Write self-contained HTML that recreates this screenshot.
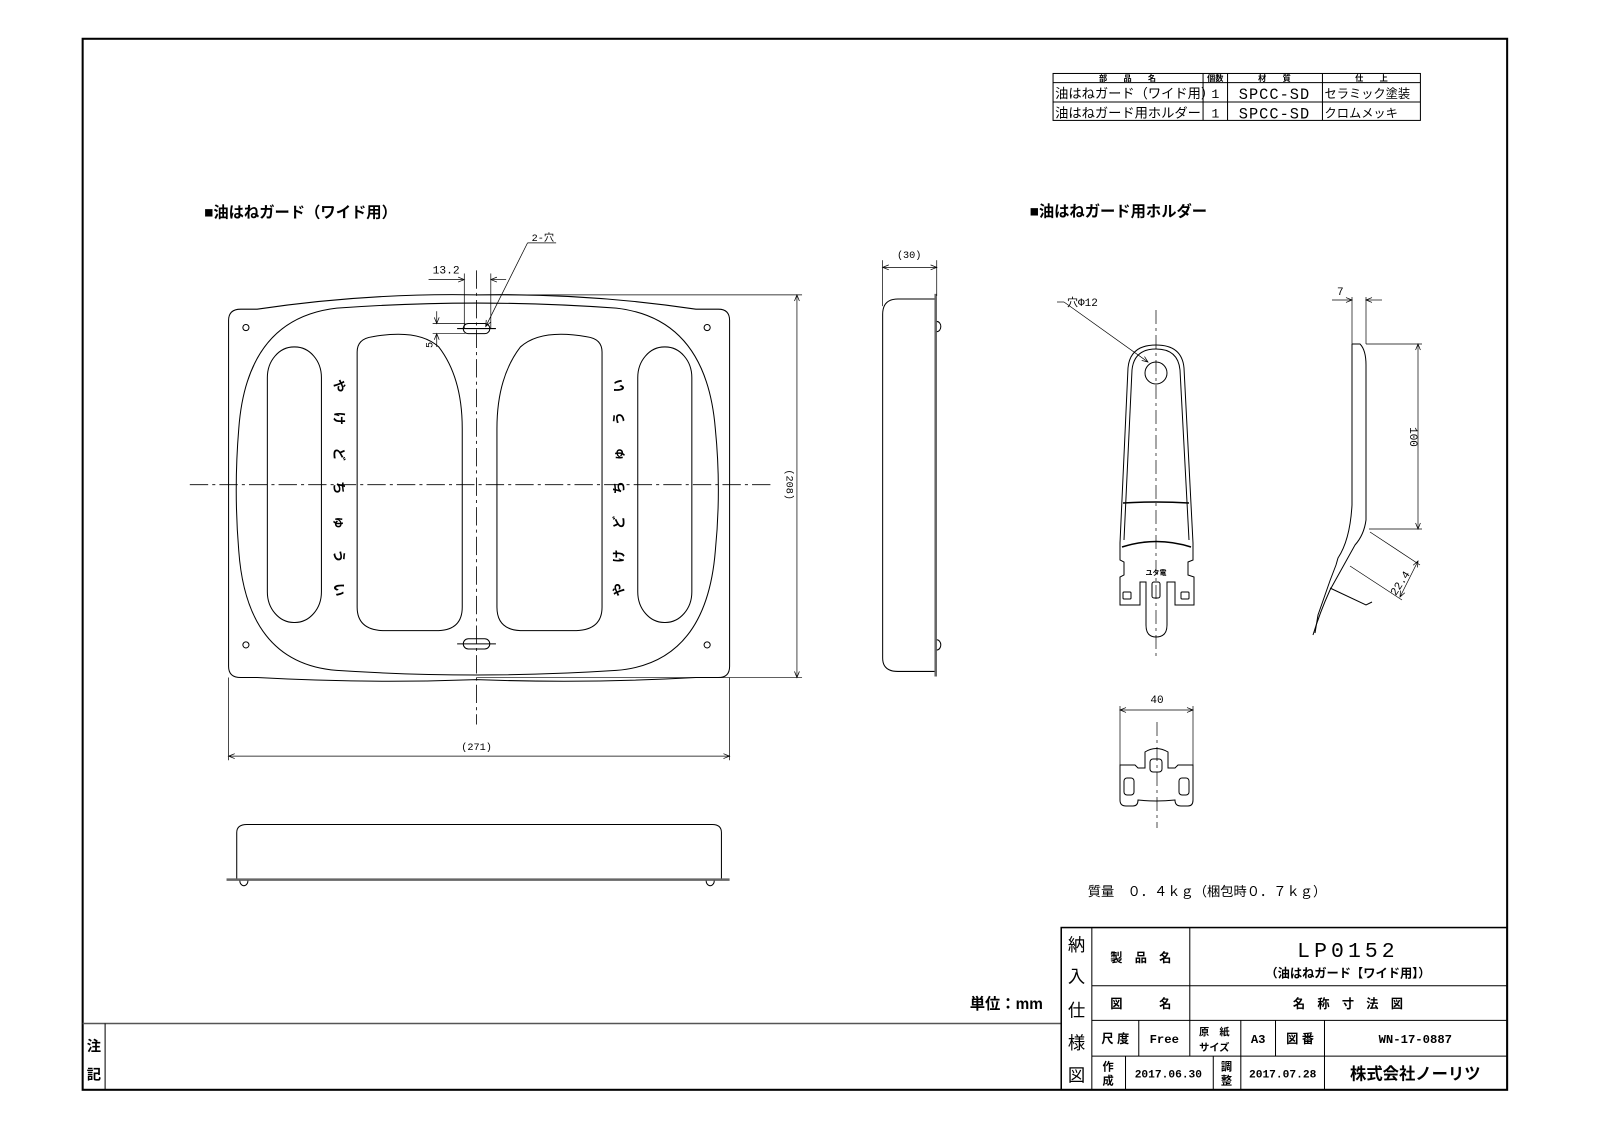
<!DOCTYPE html>
<html><head><meta charset="utf-8"><style>
html,body{margin:0;padding:0;background:#fff}
svg{display:block}
text{font-family:"Liberation Sans","Noto Sans CJK JP",sans-serif;fill:#000}
.m{font-family:"Liberation Mono","Noto Sans CJK JP",monospace}
.b{font-weight:bold}
</style></head><body>
<svg width="1600" height="1130" viewBox="0 0 1568 1107.4" xmlns="http://www.w3.org/2000/svg">
<defs>
<marker id="a" viewBox="0 0 10 10" refX="10" refY="5" markerWidth="8" markerHeight="6" orient="auto-start-reverse" markerUnits="userSpaceOnUse"><path d="M0,1 L10,5 L0,9" fill="none" stroke="#000" stroke-width="1.2"/></marker>
</defs>
<g fill="none" stroke="#000" stroke-width="1">
<rect x="81" y="38" width="1396" height="1030" stroke-width="2"/>
<line x1="81" y1="1003" x2="1040" y2="1003" stroke="#555" stroke-width="1.5"/>
<line x1="103" y1="1003" x2="103" y2="1068"/>
<rect x="1040" y="909" width="437" height="159" stroke-width="1.5"/>
<line x1="1070" y1="909" x2="1070" y2="1068"/>
<line x1="1070" y1="966" x2="1477" y2="966"/>
<line x1="1070" y1="1000" x2="1477" y2="1000"/>
<line x1="1070" y1="1035" x2="1477" y2="1035"/>
<line x1="1166" y1="909" x2="1166" y2="1000"/>
<line x1="1116" y1="1000" x2="1116" y2="1035"/>
<line x1="1166" y1="1000" x2="1166" y2="1035"/>
<line x1="1216" y1="1000" x2="1216" y2="1068"/>
<line x1="1250" y1="1000" x2="1250" y2="1035"/>
<line x1="1298" y1="1000" x2="1298" y2="1068"/>
<line x1="1103" y1="1035" x2="1103" y2="1068"/>
<line x1="1189" y1="1035" x2="1189" y2="1068"/>
<rect x="1032" y="72" width="360" height="46"/>
<line x1="1032" y1="81" x2="1392" y2="81"/>
<line x1="1032" y1="100" x2="1392" y2="100"/>
<line x1="1179" y1="72" x2="1179" y2="118"/>
<line x1="1203" y1="72" x2="1203" y2="118"/>
<line x1="1296" y1="72" x2="1296" y2="118"/>

<path d="M236,303 L252,303 Q360,287 467,289 Q574,287 682,303 L704,303 Q715,303 715,314 L715,653 Q715,664 704,664 L682,664 Q574,670 467,666 Q360,670 252,664 L236,664 Q224,664 224,653 L224,314 Q224,303 236,303 Z"/>
<path d="M330,302 Q467,292 604,302 Q692,312 701,420 Q707,480 701,540 Q692,650 604,657 Q467,666 330,657 Q242,650 234,540 Q229,480 234,420 Q242,312 330,302 Z"/>
<circle cx="241" cy="321" r="3"/><circle cx="693" cy="321" r="3"/>
<circle cx="241" cy="632" r="3"/><circle cx="693" cy="632" r="3"/>
<rect x="262" y="340" width="53" height="270" rx="26" ry="30"/>
<rect x="625" y="340" width="53" height="270" rx="26" ry="30"/>
<path d="M365,330 Q410,322 430,340 Q453,370 453,420 L453,595 Q453,617 430,618 L375,618 Q350,617 350,595 L350,345 Q350,332 365,330 Z"/>
<path d="M575,330 Q530,322 510,340 Q487,370 487,420 L487,595 Q487,617 510,618 L565,618 Q590,617 590,595 L590,345 Q590,332 575,330 Z"/>
<rect x="454" y="317" width="26" height="10" rx="5"/>
<rect x="454" y="626" width="26" height="10" rx="5"/>
<line x1="448" y1="322" x2="486" y2="322"/><line x1="448" y1="631" x2="486" y2="631"/>
<line x1="186" y1="475" x2="755" y2="475" stroke-dasharray="18,4,3,4" stroke-width="0.8"/>
<line x1="467" y1="265" x2="467" y2="710" stroke-dasharray="18,4,3,4" stroke-width="0.8"/>
<line x1="224" y1="664" x2="224" y2="745" stroke-width="0.7"/>
<line x1="715" y1="664" x2="715" y2="745" stroke-width="0.7"/>
<line x1="224" y1="741" x2="715" y2="741" stroke-width="0.7" marker-start="url(#a)" marker-end="url(#a)"/>
<line x1="467" y1="289" x2="786" y2="289" stroke-width="0.7"/>
<line x1="467" y1="664" x2="786" y2="664" stroke-width="0.7"/>
<line x1="781" y1="289" x2="781" y2="664" stroke-width="0.7" marker-start="url(#a)" marker-end="url(#a)"/>
<line x1="455" y1="268" x2="455" y2="322" stroke-width="0.7"/>
<line x1="481" y1="268" x2="481" y2="322" stroke-width="0.7"/>
<line x1="420" y1="274" x2="455" y2="274" stroke-width="0.7" marker-end="url(#a)"/>
<line x1="496" y1="274" x2="481" y2="274" stroke-width="0.7" marker-end="url(#a)"/>
<line x1="424" y1="317" x2="456" y2="317" stroke-width="0.7"/>
<line x1="424" y1="327" x2="456" y2="327" stroke-width="0.7"/>
<line x1="428" y1="305" x2="428" y2="317" stroke-width="0.7" marker-end="url(#a)"/>
<line x1="428" y1="340" x2="428" y2="327" stroke-width="0.7" marker-end="url(#a)"/>
<line x1="545" y1="238" x2="517" y2="238" stroke-width="0.7"/>
<line x1="517" y1="238" x2="476" y2="320" stroke-width="0.7" marker-end="url(#a)"/>

<path d="M918,293 L880,293 Q865,293 865,308 L865,645 Q865,658 880,658 L918,658" />
<line x1="917" y1="288" x2="917" y2="663" stroke="#666" stroke-width="2.5"/>
<path d="M918,315 A4,5 0 0 1 918,325"/><path d="M918,627 A4,5 0 0 1 918,637"/>
<line x1="865" y1="255" x2="865" y2="300" stroke-width="0.7"/>
<line x1="918" y1="255" x2="918" y2="290" stroke-width="0.7"/>
<line x1="865" y1="262" x2="918" y2="262" stroke-width="0.7" marker-start="url(#a)" marker-end="url(#a)"/>

<path d="M232,862 L232,816 Q232,808 242,808 L698,808 Q707,808 707,816 L707,862"/>
<line x1="222" y1="862" x2="715" y2="862" stroke="#666" stroke-width="2.5"/>
<path d="M235,863 A4,5 0 0 0 243,863"/><path d="M692,863 A4,5 0 0 0 700,863"/>
</g>

<g transform="scale(0.98)" fill="none" stroke="#000" stroke-width="1">
<path d="M1120,543 L1128,368 Q1130,345 1156,345 Q1182,345 1184,368 L1193,543 L1193,560 L1188,562 L1188,575 L1194,577 L1194,605 L1175,605 L1175,582 L1167,582 L1167,625 Q1167,637 1156,637 Q1146,637 1146,625 L1146,582 L1140,582 L1140,605 L1120,605 L1120,577 L1124,575 L1124,562 L1120,560 Z"/>
<path d="M1124,540 L1132,370 Q1134,349 1156,349 Q1178,349 1180,370 L1189,540"/>
<circle cx="1156" cy="373" r="11"/>
<path d="M1123,503 Q1156,501 1189,503" stroke-width="1.5"/>
<path d="M1122,547 Q1156,536 1191,547" stroke-width="1.5"/>
<rect x="1152" y="582" width="8" height="16" rx="2"/>
<rect x="1123" y="592" width="8" height="7" rx="1"/><rect x="1181" y="592" width="8" height="7" rx="1"/>
<line x1="1156" y1="310" x2="1156" y2="660" stroke-dasharray="14,4,3,4" stroke-width="0.7"/>
<line x1="1057" y1="302" x2="1064" y2="302" stroke-width="0.7"/>
<line x1="1064" y1="302" x2="1148" y2="362" stroke-width="0.7" marker-end="url(#a)"/>
<path d="M1352,344 L1360,344 Q1366,350 1366,365 L1366,520 Q1364,535 1355,545 L1330,590 Q1320,612 1313,635"/>
<path d="M1352,344 L1352,505 Q1350,540 1338,558 L1336,565 Q1330,580 1325,595 L1318,615 L1315,633"/>
<path d="M1330,588 L1366,605 L1372,602"/>
<line x1="1352" y1="297" x2="1352" y2="344" stroke-width="0.7"/>
<line x1="1366" y1="297" x2="1366" y2="344" stroke-width="0.7"/>
<line x1="1332" y1="300" x2="1352" y2="300" stroke-width="0.7" marker-end="url(#a)"/>
<line x1="1382" y1="300" x2="1366" y2="300" stroke-width="0.7" marker-end="url(#a)"/>
<line x1="1366" y1="344" x2="1422" y2="344" stroke-width="0.7"/>
<line x1="1369" y1="529" x2="1422" y2="529" stroke-width="0.7"/>
<line x1="1418" y1="344" x2="1418" y2="529" stroke-width="0.7" marker-start="url(#a)" marker-end="url(#a)"/>
<line x1="1370" y1="532" x2="1420" y2="565" stroke-width="0.7"/>
<line x1="1350" y1="566" x2="1402" y2="600" stroke-width="0.7"/>
<line x1="1418" y1="561" x2="1400" y2="597" stroke-width="0.7" marker-start="url(#a)" marker-end="url(#a)"/>
<path d="M1120,765 L1120,800 Q1120,806 1126,806 L1133,806 Q1138,806 1138,800 Q1156,802 1175,800 Q1175,806 1181,806 L1188,806 Q1193,806 1193,800 L1193,765 L1178,765 L1175,768 L1168,768 L1168,752 Q1156,745 1145,752 L1145,768 L1138,768 L1135,765 Z"/>
<rect x="1124" y="778" width="10" height="17" rx="3"/><rect x="1179" y="778" width="10" height="17" rx="3"/>
<rect x="1150" y="759" width="12" height="13" rx="3"/>
<line x1="1157" y1="722" x2="1157" y2="828" stroke-dasharray="14,4,3,4" stroke-width="0.7"/>
<line x1="1120" y1="706" x2="1120" y2="765" stroke-width="0.7"/>
<line x1="1193" y1="706" x2="1193" y2="765" stroke-width="0.7"/>
<line x1="1120" y1="710" x2="1193" y2="710" stroke-width="0.7" marker-start="url(#a)" marker-end="url(#a)"/>
<text x="1157" y="703" font-size="11" text-anchor="middle" class="m" stroke="none" fill="#000">40</text>
<text x="1067" y="306" font-size="11" class="m" stroke="none" fill="#000">穴Φ12</text>
<text x="1337" y="295" font-size="11" class="m" stroke="none" fill="#000">7</text>
<text x="1156" y="575" font-size="7" text-anchor="middle" stroke="none" fill="#000" class="b">ユタ電</text>
<text transform="translate(1410,437) rotate(90)" font-size="11" text-anchor="middle" class="m" stroke="none" fill="#000">100</text>
<text transform="translate(1403,585) rotate(-57)" font-size="11" text-anchor="middle" class="m" stroke="none" fill="#000">22.4</text>
</g>

<text x="200" y="213" font-size="15" class="b">■油はねガード（ワイド用）</text>
<text x="1009" y="212" font-size="15" class="b">■油はねガード用ホルダー</text>
<text x="521" y="236" font-size="10" class="m">2-穴</text>
<text x="424" y="268" font-size="11" class="m">13.2</text>
<text transform="translate(424,338) rotate(-90)" font-size="10" text-anchor="middle" class="m">5</text>
<text x="467" y="735" font-size="10" text-anchor="middle" class="m">(271)</text>
<text transform="translate(771,475) rotate(90)" font-size="10" text-anchor="middle" class="m">(208)</text>
<text x="891" y="253" font-size="10" text-anchor="middle" class="m">(30)</text>
<g font-size="13" class="b" text-anchor="middle">
<text transform="translate(333,378) rotate(90)" dy="5">や</text>
<text transform="translate(333,410) rotate(90)" dy="5">け</text>
<text transform="translate(333,445) rotate(90)" dy="5">ど</text>
<text transform="translate(333,478) rotate(90)" dy="5">ち</text>
<text transform="translate(333,512) rotate(90)" dy="5">ゅ</text>
<text transform="translate(333,545) rotate(90)" dy="5">う</text>
<text transform="translate(333,578) rotate(90)" dy="5">い</text>
<text transform="translate(606,378) rotate(-90)" dy="5">い</text>
<text transform="translate(606,410) rotate(-90)" dy="5">う</text>
<text transform="translate(606,445) rotate(-90)" dy="5">ゅ</text>
<text transform="translate(606,478) rotate(-90)" dy="5">ち</text>
<text transform="translate(606,512) rotate(-90)" dy="5">ど</text>
<text transform="translate(606,545) rotate(-90)" dy="5">け</text>
<text transform="translate(606,578) rotate(-90)" dy="5">や</text>
</g>
<text x="1066" y="878" font-size="13" class="m">質量　０．４ｋｇ（梱包時０．７ｋｇ）</text>
<text x="1022" y="989" font-size="15" class="b" text-anchor="end">単位：mm</text>
<text x="92" y="1030" font-size="14" class="b" text-anchor="middle">注</text>
<text x="92" y="1058" font-size="14" class="b" text-anchor="middle">記</text>
<g font-size="8" class="b" text-anchor="middle">
<text x="1105" y="79.5">部　　品　　名</text><text x="1191" y="79.5">個数</text>
<text x="1249" y="79.5">材　　質</text><text x="1344" y="79.5">仕　　上</text>
</g>
<g font-size="13">
<text x="1034" y="96">油はねガード（ワイド用）</text><text x="1034" y="115">油はねガード用ホルダー</text>
<text x="1191" y="96" text-anchor="middle" class="m">1</text><text x="1191" y="115" text-anchor="middle" class="m">1</text>
<text x="1249" y="97" text-anchor="middle" font-size="15" class="m" letter-spacing="1">SPCC-SD</text>
<text x="1249" y="116" text-anchor="middle" font-size="15" class="m" letter-spacing="1">SPCC-SD</text>
<text x="1298" y="96" font-size="12">セラミック塗装</text><text x="1298" y="115" font-size="12">クロムメッキ</text>
</g>
<g font-size="17" text-anchor="middle">
<text x="1055" y="932">納</text><text x="1055" y="963">入</text><text x="1055" y="996">仕</text><text x="1055" y="1028">様</text><text x="1055" y="1060">図</text>
</g>
<g class="b" font-size="12" text-anchor="middle">
<text x="1118" y="943">製　品　名</text>
<text x="1118" y="988">図　　　名</text>
<text x="1321" y="988">名　称　寸　法　図</text>
<text x="1321" y="958">（油はねガード【ワイド用】）</text>
<text x="1093" y="1022">尺 度</text>
<text x="1141" y="1022" class="m">Free</text>
<text x="1190" y="1015" font-size="10">原　紙</text><text x="1190" y="1030" font-size="10">サイズ</text>
<text x="1233" y="1022" class="m">A3</text>
<text x="1274" y="1022">図 番</text>
<text x="1387" y="1022" class="m">WN-17-0887</text>
<text x="1086" y="1049" font-size="11">作</text><text x="1086" y="1063" font-size="11">成</text>
<text x="1145" y="1056" class="m" font-size="11">2017.06.30</text>
<text x="1202" y="1049" font-size="11">調</text><text x="1202" y="1063" font-size="11">整</text>
<text x="1257" y="1056" class="m" font-size="11">2017.07.28</text>
<text x="1387" y="1058" font-size="16">株式会社ノーリツ</text>
</g>
<text x="1321" y="938" font-size="21" text-anchor="middle" class="m" letter-spacing="4">LP0152</text>
</svg>
</body></html>
